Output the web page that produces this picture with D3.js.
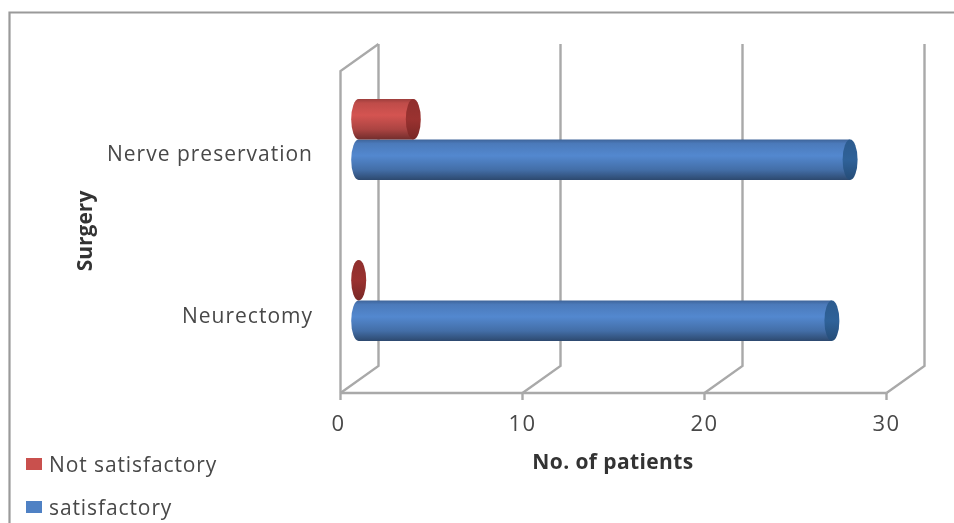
<!DOCTYPE html>
<html><head><meta charset="utf-8">
<script src="https://cdn.jsdelivr.net/npm/d3@7"></script>
<style>html,body{margin:0;padding:0;background:#fff}svg{display:block;filter:blur(.7px)}
text{font-family:"Open Sans",sans-serif;fill:#484848}</style></head><body>
<svg id="c" width="954" height="523"></svg>
<script>
const categories = ["Neurectomy","Nerve preservation"];
const seriesNames = ["Not satisfactory","satisfactory"];
const notSatisfactory = [1,4];
const satisfactory = [27,28];
const xTicks = [0,10,20,30];
const barBase = 1;
const colors = {"Not satisfactory":["#c9504d","#9a3230","#7d2624"],"satisfactory":["#4f81c4","#2f6299","#254f82"]};

const W=954,H=523;
const svg=d3.select("#c");
svg.append("rect").attr("width",W).attr("height",H).attr("fill","#fff");
const x=d3.scaleLinear().domain([0,30]).range([340.5,886.5]);
const y=d3.scalePoint().domain(categories).range([300.5,139.5]);
const depth={dx:38,dy:-27};
const floorY=393, wallTop=71, grid="#a9a9a9";

const defs=svg.append("defs");
seriesNames.forEach((s,i)=>{
  const [c,d]=colors[s];
  const g=defs.append("linearGradient").attr("id","g"+i).attr("x1",0).attr("x2",0).attr("y1",0).attr("y2",1);
  g.append("stop").attr("offset",0).attr("stop-color",d3.color(c).darker(.7));
  g.append("stop").attr("offset",.1).attr("stop-color",d3.color(c).darker(.15));
  g.append("stop").attr("offset",.4).attr("stop-color",d3.color(c).brighter(.15));
  g.append("stop").attr("offset",.75).attr("stop-color",d3.color(c).darker(.45));
  g.append("stop").attr("offset",1).attr("stop-color",d3.color(c).darker(1.6));
  const e=defs.append("linearGradient").attr("id","e"+i).attr("x1",0).attr("x2",0).attr("y1",0).attr("y2",1);
  e.append("stop").attr("offset",0).attr("stop-color",d3.color(d).darker(.2));
  e.append("stop").attr("offset",.5).attr("stop-color",d);
  e.append("stop").attr("offset",1).attr("stop-color",d3.color(d).darker(.7));
});

// frame
svg.append("path").attr("d",`M9.5,${H}V12.5H${W}`).attr("fill","none").attr("stroke","#9a9a9a").attr("stroke-width",2.2);

// walls and gridlines
const gw=svg.append("g").attr("fill","none").attr("stroke",grid).attr("stroke-width",2.4);
xTicks.forEach(t=>{
  const a=x(t), b=a+depth.dx, fy=floorY+depth.dy, ty=wallTop+depth.dy;
  gw.append("path").attr("d",`M${a},${floorY}L${b},${fy}V${ty}`);
  gw.append("path").attr("d",`M${a},${floorY}v7`);
});
gw.append("path").attr("d",`M${x(0)},${floorY}V${wallTop}L${x(0)+depth.dx},${wallTop+depth.dy}`);
gw.append("path").attr("d",`M${x(0)},${floorY}H${x(30)}`);

// cylinders
const rx=7.5;
const series=[{name:"satisfactory",values:satisfactory,idx:1,off:0},{name:"Not satisfactory",values:notSatisfactory,idx:0,off:-1}];
const h=40.5;
function cyl(g,v,cat,s){
  const x0=x(barBase), x1=x(v), top=y(cat)+s.off*h, r=h/2, cy=top+r;
  if(v>barBase){
    g.append("path")
      .attr("d",`M${x1},${top}H${x0}A${rx},${r} 0 0 0 ${x0},${top+h}H${x1}Z`)
      .attr("fill",`url(#g${s.idx})`);
  }
  g.append("ellipse").attr("cx",x1).attr("cy",cy).attr("rx",rx).attr("ry",r)
    .attr("fill",`url(#e${s.idx})`);
}
const gb=svg.append("g");
series.forEach(s=>s.values.forEach((v,i)=>cyl(gb,v,categories[i],s)));

// axis labels
svg.append("g").selectAll("text").data(xTicks).join("text")
  .attr("x",d=>x(d)+(d===0?-2:0)).attr("y",431).attr("text-anchor","middle")
  .attr("font-size",22).style("letter-spacing","1.5px").text(d=>d);
svg.append("g").selectAll("text").data(categories).join("text")
  .attr("x",313).attr("y",d=>y(d)+(d==="Neurectomy"?22:21)).attr("text-anchor","end")
  .attr("font-size",21).style("letter-spacing","1px").text(d=>d);
svg.append("text").attr("transform","translate(92,231) rotate(-90)").attr("text-anchor","middle")
  .attr("font-size",21).attr("font-weight",700).style("fill","#333").text("Surgery");
svg.append("text").attr("x",613).attr("y",469).attr("text-anchor","middle")
  .attr("font-size",21).attr("font-weight",700).style("fill","#333").style("letter-spacing",".4px").text("No. of patients");

// legend
const lg=svg.append("g");
seriesNames.forEach((s,i)=>{
  const ly=464+i*43;
  lg.append("rect").attr("x",26).attr("y",ly-6).attr("width",16).attr("height",12).attr("fill",colors[s][0]);
  lg.append("text").attr("x",49).attr("y",ly+8).attr("font-size",21).style("letter-spacing",".9px").text(s);
});
</script></body></html>
